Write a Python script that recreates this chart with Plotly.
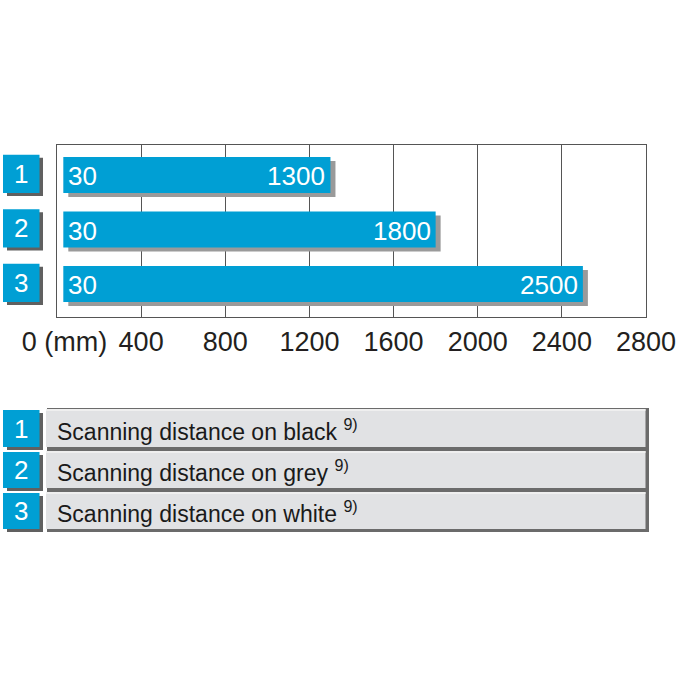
import plotly.graph_objects as go

# ---- data ----
rows = [1, 2, 3]
row_labels = ["1", "2", "3"]
range_min = [30, 30, 30]
range_max = [1300, 1800, 2500]
tick_vals = [0, 400, 800, 1200, 1600, 2000, 2400, 2800]
tick_text = ["\u00a0\u00a00 (mm)", "400", "800", "1200", "1600", "2000", "2400", "2800"]
legend_text = ["Scanning distance on black", "Scanning distance on grey", "Scanning distance on white"]
footnote = "9)"

W = H = 680
BLUE = "#009FD4"
BAR_SHADOW = "#9a9a9a"
BOX_SHADOW = "#606060"
GRID = "#555555"
FONT = "Liberation Sans, Arial, sans-serif"

# plot area in pixels
PX_L, PX_R, PX_T, PX_B = 57, 646, 145, 317
XMAX = 2800
ROW_PX = 54.5
y_top = 1 - (175 - PX_T) / ROW_PX
y_bot = y_top + (PX_B - PX_T) / ROW_PX

def xp(px):
    return px / W

def yp(py):
    return 1 - py / H

units_per_px = XMAX / (PX_R - PX_L)
shadow_dx = 5 * units_per_px
shadow_dy = 4 / ROW_PX

fig = go.Figure()

# bar shadows
fig.add_trace(go.Bar(
    orientation="h",
    y=[r + shadow_dy for r in rows],
    x=[b - a for a, b in zip(range_min, range_max)],
    base=[a + shadow_dx for a in range_min],
    width=0.66,
    marker=dict(color=BAR_SHADOW, line=dict(width=0)),
    hoverinfo="skip",
))
# bars
fig.add_trace(go.Bar(
    orientation="h",
    y=rows,
    x=[b - a for a, b in zip(range_min, range_max)],
    base=range_min,
    width=0.66,
    marker=dict(color=BLUE, line=dict(width=0)),
))

annotations = []
shapes = []

for r, a, b, lab in zip(rows, range_min, range_max, row_labels):
    annotations.append(dict(x=a, y=r, xref="x", yref="y", text=str(a), showarrow=False,
                            xanchor="left", xshift=3, yshift=-1,
                            font=dict(family=FONT, size=26, color="white")))
    annotations.append(dict(x=b, y=r, xref="x", yref="y", text=str(b), showarrow=False,
                            xanchor="right", xshift=-3, yshift=-1,
                            font=dict(family=FONT, size=26, color="white")))
    # left number boxes (aligned to category rows)
    y0, y1 = r + 0.33, r - 0.37
    shapes.append(dict(type="rect", xref="paper", yref="y",
                       x0=xp(7), x1=xp(43), y0=y0 + 3 / ROW_PX, y1=y1 + 3 / ROW_PX,
                       fillcolor=BOX_SHADOW, line=dict(width=0), layer="above"))
    shapes.append(dict(type="rect", xref="paper", yref="y",
                       x0=xp(3), x1=xp(39.5), y0=y0, y1=y1,
                       fillcolor=BLUE, line=dict(width=0), layer="above"))
    annotations.append(dict(x=xp(21), y=r - 0.02, xref="paper", yref="y", text=lab,
                            showarrow=False, xanchor="center", yanchor="middle",
                            font=dict(family=FONT, size=26, color="white")))

# legend rows
leg_rows = [(410, 447), (452, 488), (493, 529)]
for (t, btm), lab, txt in zip(leg_rows, row_labels, legend_text):
    # gray bar shadow (bottom + right)
    shapes.append(dict(type="rect", xref="paper", yref="paper",
                       x0=xp(47), x1=xp(649), y0=yp(t - 2), y1=yp(btm + 3),
                       fillcolor="#6b6b6b", line=dict(width=0)))
    shapes.append(dict(type="rect", xref="paper", yref="paper",
                       x0=xp(46), x1=xp(645.5), y0=yp(t - 1), y1=yp(btm),
                       fillcolor="#e1e2e4", line=dict(width=0)))
    shapes.append(dict(type="rect", xref="paper", yref="paper",
                       x0=xp(46), x1=xp(645.5), y0=yp(t - 1), y1=yp(t + 1),
                       fillcolor="#efefef", line=dict(width=0)))
    # number box
    shapes.append(dict(type="rect", xref="paper", yref="paper",
                       x0=xp(7), x1=xp(43), y0=yp(t + 3), y1=yp(btm + 3),
                       fillcolor=BOX_SHADOW, line=dict(width=0)))
    shapes.append(dict(type="rect", xref="paper", yref="paper",
                       x0=xp(3), x1=xp(39.5), y0=yp(t), y1=yp(btm),
                       fillcolor=BLUE, line=dict(width=0)))
    annotations.append(dict(x=xp(21), y=yp((t + btm) / 2), xref="paper", yref="paper",
                            text=lab, showarrow=False, xanchor="center", yanchor="middle",
                            font=dict(family=FONT, size=26, color="white")))
    annotations.append(dict(x=xp(55), y=yp((t + btm) / 2 + 1), xref="paper", yref="paper",
                            text=f"{txt} <sup>{footnote}</sup>", showarrow=False,
                            xanchor="left", yanchor="middle",
                            font=dict(family=FONT, size=23, color="#1a1a1a")))

fig.update_layout(
    width=W, height=H,
    margin=dict(l=0, r=0, t=0, b=0, autoexpand=False),
    paper_bgcolor="white", plot_bgcolor="white",
    showlegend=False,
    barmode="overlay",
    shapes=shapes,
    annotations=annotations,
    xaxis=dict(domain=[xp(PX_L), xp(PX_R)], range=[0, XMAX],
               tickvals=tick_vals, ticktext=tick_text,
               showgrid=True, gridcolor=GRID, gridwidth=1.3,
               showline=True, linecolor=GRID, linewidth=1.3, mirror=True,
               zeroline=False, ticks="", automargin=False,
               tickfont=dict(family=FONT, size=27, color="#231f20"),
               fixedrange=True),
    yaxis=dict(domain=[yp(PX_B), yp(PX_T)], range=[y_bot, y_top],
               showgrid=False, showticklabels=False, zeroline=False,
               showline=True, linecolor=GRID, linewidth=1.3, mirror=True,
               automargin=False, fixedrange=True),
)

fig.write_html("out.html", config={"displayModeBar": False},
               post_script="document.body.style.margin='0';document.body.style.overflow='hidden';")
